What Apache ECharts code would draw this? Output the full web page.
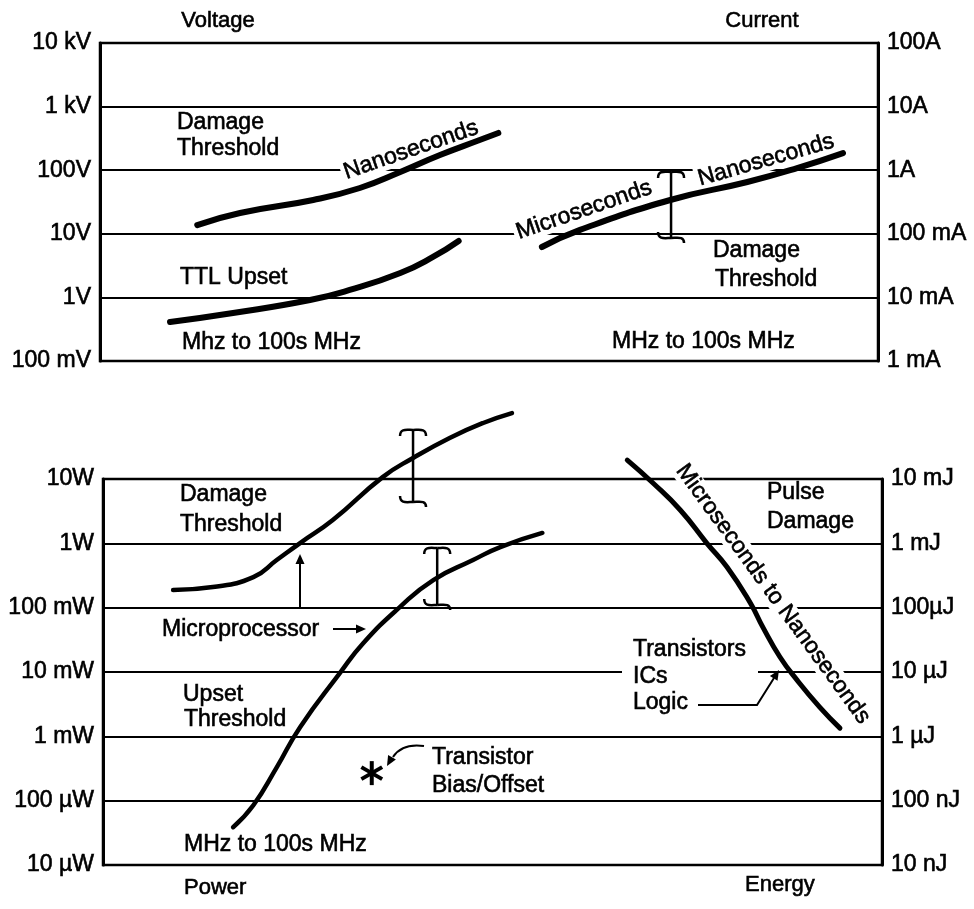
<!DOCTYPE html>
<html><head><meta charset="utf-8">
<script src="https://cdn.jsdelivr.net/npm/echarts@6/dist/echarts.min.js"></script>
<style>html,body{margin:0;padding:0;background:#fff}#c{width:974px;height:909px}</style>
</head><body><div id="c"></div>
<script>
// ---- tick labels ----
const voltLabels = ['100 mV','1V','10V','100V','1 kV','10 kV'];       // 1e-1 .. 1e4
const currLabels = ['1 mA','10 mA','100 mA','1A','10A','100A'];       // 1e-3 .. 1e2
const powerLabels = ['10 \u00b5W','100 \u00b5W','1 mW','10 mW','100 mW','1W','10W']; // 1e-5 .. 1e1
const energyLabels = ['10 nJ','100 nJ','1 \u00b5J','10 \u00b5J','100\u00b5J','1 mJ','10 mJ']; // 1e-8 .. 1e-2

// ---- top panel: voltage (V) ----
const voltDamageX = [12.5, 18, 27.4, 33.4, 38.6, 43.7, 48.8, 51.2];
const voltDamageY = [13.7, 21.2, 34, 52.5, 93.7, 173, 298, 385];
const ttlUpsetX = [9, 17.1, 27, 32.1, 38.6, 42.8, 46.1];
const ttlUpsetY = [0.41, 0.569, 0.91, 1.31, 2.42, 4.32, 7.7];
// ---- top panel: current (A) ----
const currDamageX = [56.8, 61.7, 73.3, 83.2, 89.6, 95.5];
const currDamageY = [0.062, 0.115, 0.34, 0.652, 1.08, 1.86];
const currErrX = [73.4];
const currErrLow = [0.086];
const currErrHigh = [0.94];
// ---- bottom panel: power (W) ----
const powerDamageX = [9.0, 14.1, 19.3, 22.3, 25.3, 29.5, 35.9, 39.8, 44.5, 48.8, 52.5];
const powerDamageY = [0.188, 0.209, 0.299, 0.55, 1.01, 2.30, 10.7, 21.2, 43.4, 74.3, 106];
const powerUpsetX = [16.7, 19.3, 22.3, 25.3, 30.4, 33.4, 38.1, 42.4, 47.5, 51, 56.4];
const powerUpsetY = [3.87e-5, 8.5e-5, 3.3e-4, 1.39e-3, 9.6e-3, 0.028, 0.102, 0.269, 0.55, 0.875, 1.45];
const powerErrX = [39.8, 42.9];
const powerErrLow = [4.39, 0.11];
const powerErrHigh = [57.8, 0.845];
const biasX = [34.5];
const biasY = [2.68e-4];
// ---- bottom panel: energy (J) ----
const pulseX = [67.3, 70.6, 74.1, 77.5, 80.1, 83.1, 84.7, 86.9, 89.1, 92, 94.6];
const pulseY = [0.0197, 8.67e-3, 3.3e-3, 1.01e-3, 4.28e-4, 1.18e-4, 4.99e-5, 1.71e-5, 7.48e-6, 2.85e-6, 1.34e-6];

const FONT = '"Liberation Sans", Arial, sans-serif';
const zip = (xs, ys) => xs.map((x, i) => [x, ys[i]]);
const zip3 = (xs, a, b) => xs.map((x, i) => [x, a[i], b[i]]);

function yAx(grid, pos, min, max, labels, minExp, split) {
  return {
    type: 'log', logBase: 10, gridIndex: grid, position: pos, min: min, max: max,
    splitNumber: labels.length - 1,
    axisLine: { show: true, onZero: false, lineStyle: { color: '#000', width: 3 } },
    axisTick: { show: false }, minorTick: { show: false },
    splitLine: { show: split, lineStyle: { color: '#000', width: 1.8 } },
    axisLabel: {
      color: '#000', fontFamily: FONT, fontSize: 23, margin: 9,
      textBorderColor: '#000', textBorderWidth: 0.6,
      formatter: v => labels[Math.round(Math.log10(v)) - minExp] || ''
    }
  };
}

function lineS(xi, yi, xs, ys, w) {
  return { type: 'line', xAxisIndex: xi, yAxisIndex: yi, data: zip(xs, ys), smooth: 0.5,
    symbol: 'none', clip: false, z: 3, silent: true,
    lineStyle: { color: '#000', width: w, cap: 'round', join: 'round' } };
}

function errRender(params, api) {
  const x = api.value(0);
  const pTop = api.coord([x, api.value(2)]);
  const pBot = api.coord([x, api.value(1)]);
  const cx = pTop[0], t = pTop[1], b = pBot[1];
  const st = { stroke: '#000', lineWidth: 2.5, fill: null };
  return { type: 'group', children: [
    { type: 'line', shape: { x1: cx, y1: t, x2: cx, y2: b }, style: st },
    { type: 'bezierCurve', shape: { x1: cx - 13, y1: t + 6, cpx1: cx - 13, cpy1: t - 2, cpx2: cx - 6, cpy2: t, x2: cx, y2: t }, style: st },
    { type: 'bezierCurve', shape: { x1: cx, y1: t, cpx1: cx + 6, cpy1: t, cpx2: cx + 13, cpy2: t - 2, x2: cx + 13, y2: t + 6 }, style: st },
    { type: 'bezierCurve', shape: { x1: cx - 13, y1: b - 6, cpx1: cx - 13, cpy1: b + 2, cpx2: cx - 6, cpy2: b, x2: cx, y2: b }, style: st },
    { type: 'bezierCurve', shape: { x1: cx, y1: b, cpx1: cx + 6, cpy1: b, cpx2: cx + 13, cpy2: b - 2, x2: cx + 13, y2: b + 5 }, style: st }
  ]};
}

function starRender(params, api) {
  const p = api.coord([api.value(0), api.value(1)]);
  const r = 12, st = { stroke: '#000', lineWidth: 4 };
  const ch = [90, 30, -30].map(a => {
    const rad = a * Math.PI / 180, dx = r * Math.cos(rad), dy = r * Math.sin(rad);
    return { type: 'line', shape: { x1: p[0] - dx, y1: p[1] - dy, x2: p[0] + dx, y2: p[1] + dy }, style: st };
  });
  return { type: 'group', children: ch };
}

function txt(x, y, s, o) {
  o = o || {};
  return { type: 'text', x: x, y: y, rotation: (o.rot || 0) * Math.PI / 180, z: 1,
    style: { text: s, x: 0, y: 0, font: (o.size || 23) + 'px ' + FONT, fill: '#000',
      stroke: '#000', lineWidth: 0.6,
      align: o.align || 'left', textAlign: o.align || 'left',
      verticalAlign: 'middle', textVerticalAlign: 'middle',
      backgroundColor: o.bg ? '#fff' : 'transparent', padding: o.bg ? [0, 3] : 0 } };
}
const arrowSt = { stroke: '#000', lineWidth: 2, fill: null };
function head(tx, ty, ang) {
  const a = ang * Math.PI / 180, L = 10, W = 4.5;
  const bx = tx - L * Math.cos(a), by = ty - L * Math.sin(a);
  return { type: 'polygon', z: 1, shape: { points: [[tx, ty], [bx - W * Math.sin(a), by + W * Math.cos(a)], [bx + W * Math.sin(a), by - W * Math.cos(a)]] }, style: { fill: '#000' } };
}

const graphics = [
  txt(218, 21, 'Voltage', { align: 'center', size: 22 }),
  txt(762, 21, 'Current', { align: 'center', size: 22 }),
  txt(177, 123, 'Damage'), txt(177, 149, 'Threshold'),
  txt(411, 150, 'Nanoseconds', { align: 'center', rot: 19, bg: true }),
  txt(180, 278, 'TTL Upset'),
  txt(182, 343, 'Mhz to 100s MHz'),
  txt(584, 210, 'Microseconds', { align: 'center', rot: 19, bg: true }),
  txt(766, 160, 'Nanoseconds', { align: 'center', rot: 16, bg: true }),
  txt(713, 251, 'Damage'), txt(715, 280, 'Threshold'),
  txt(612, 342, 'MHz to 100s MHz'),
  // bottom
  txt(180, 495, 'Damage'), txt(180, 525, 'Threshold'),
  txt(162, 630, 'Microprocessor'),
  txt(183, 695, 'Upset'), txt(184, 720, 'Threshold'),
  txt(432, 758, 'Transistor'), txt(432, 786, 'Bias/Offset'),
  txt(184, 845, 'MHz to 100s MHz'),
  txt(184, 888, 'Power', { size: 22 }),
  txt(773, 594, 'Microseconds to Nanoseconds', { align: 'center', rot: -54, bg: true }),
  txt(767, 493, 'Pulse'), txt(767, 522, 'Damage'),
  { type: 'rect', z: 0.5, shape: { x: 622, y: 664, width: 136, height: 18 }, style: { fill: '#fff' } },
  txt(633, 650, 'Transistors'), txt(633, 677, 'ICs'), txt(633, 703, 'Logic'),
  txt(745, 885, 'Energy', { size: 22 }),
  // arrows
  { type: 'line', z: 1, shape: { x1: 300, y1: 609, x2: 300, y2: 562 }, style: arrowSt },
  head(300, 554, -90),
  { type: 'line', z: 1, shape: { x1: 333, y1: 629, x2: 358, y2: 629 }, style: arrowSt },
  head(366, 629, 0),
  { type: 'bezierCurve', z: 1, shape: { x1: 424, y1: 746, cpx1: 402, cpy1: 743, x2: 393, y2: 757 }, style: arrowSt },
  head(387, 766, 120),
  { type: 'polyline', z: 1, shape: { points: [[698, 705], [757, 705], [774, 678]] }, style: arrowSt },
  head(779, 670, -58)
];

const chart = echarts.init(document.getElementById('c'), null, { renderer: 'canvas' });
chart.setOption({
  animation: false,
  backgroundColor: '#fff',
  grid: [
    { left: 100, top: 43, width: 778, height: 318, show: true, borderColor: '#000', borderWidth: 2.5, backgroundColor: 'transparent' },
    { left: 103, top: 479, width: 779, height: 386, show: true, borderColor: '#000', borderWidth: 2.5, backgroundColor: 'transparent' }
  ],
  xAxis: [
    { type: 'value', gridIndex: 0, min: 0, max: 100, show: false },
    { type: 'value', gridIndex: 1, min: 0, max: 100, show: false }
  ],
  yAxis: [
    yAx(0, 'left', 0.1, 1e4, voltLabels, -1, true),
    yAx(0, 'right', 1e-3, 1e2, currLabels, -3, false),
    yAx(1, 'left', 1e-5, 10, powerLabels, -5, true),
    yAx(1, 'right', 1e-8, 1e-2, energyLabels, -8, false)
  ],
  graphic: graphics,
  series: [
    lineS(0, 0, voltDamageX, voltDamageY, 6),
    lineS(0, 0, ttlUpsetX, ttlUpsetY, 6),
    lineS(0, 1, currDamageX, currDamageY, 6),
    lineS(1, 2, powerDamageX, powerDamageY, 4.5),
    lineS(1, 2, powerUpsetX, powerUpsetY, 4.5),
    lineS(1, 3, pulseX, pulseY, 5),
    { type: 'custom', xAxisIndex: 0, yAxisIndex: 1, clip: false, z: 4, silent: true,
      data: zip3(currErrX, currErrLow, currErrHigh), renderItem: errRender },
    { type: 'custom', xAxisIndex: 1, yAxisIndex: 2, clip: false, z: 4, silent: true,
      data: zip3(powerErrX, powerErrLow, powerErrHigh), renderItem: errRender },
    { type: 'custom', xAxisIndex: 1, yAxisIndex: 2, clip: false, z: 4, silent: true,
      data: zip(biasX, biasY), renderItem: starRender }
  ]
});
</script></body></html>
